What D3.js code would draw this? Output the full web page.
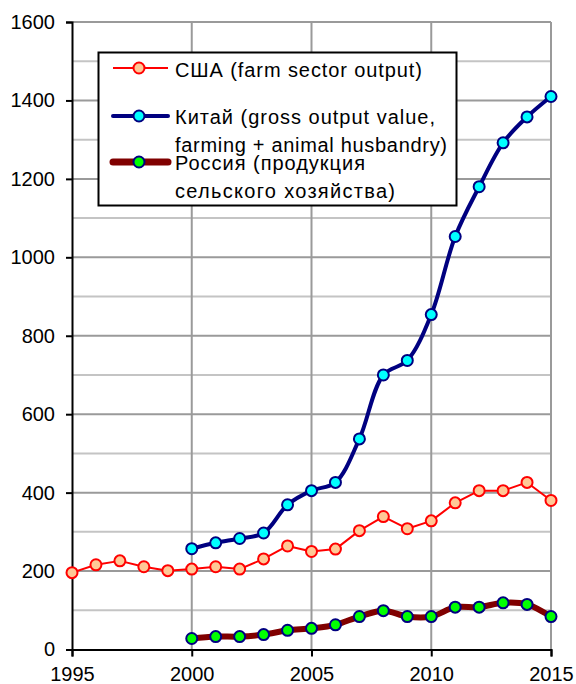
<!DOCTYPE html>
<html>
<head>
<meta charset="utf-8">
<script src="https://cdn.jsdelivr.net/npm/d3@7"></script>
<style>
  html, body { margin: 0; padding: 0; background: #fff; }
  svg { display: block; font-family: "Liberation Sans", Arial, sans-serif; }
</style>
</head>
<body>
<svg id="chart" width="576" height="684"></svg>
<script>
// Years of the observation period
const years = d3.range(1995, 2016);

// USA, farm sector output (1995–2015)
const usaValues = [196, 216, 226, 211, 201, 205, 211, 205, 231, 264, 250, 256,
                   303, 339, 308, 328, 374, 405, 405, 426, 380];

// China, gross output value (2000–2015)
const chinaYears = d3.range(2000, 2016);
const chinaValues = [257, 272, 283, 297, 369, 405, 426, 537, 700, 737, 854,
                     1053, 1180, 1292, 1358, 1410];

// Russia, agricultural production (2000–2015)
const russiaYears = d3.range(2000, 2016);
const russiaValues = [28, 33, 33, 38, 49, 54, 63, 84, 99, 84, 84, 108, 108,
                      119, 115, 84];

const yTicks = [0, 200, 400, 600, 800, 1000, 1200, 1400, 1600];
const yMinor = [100, 300, 500, 700, 900, 1100, 1300, 1500];
const xTicks = [1995, 2000, 2005, 2010, 2015];

const legendItems = [
  { lines: ["США (farm sector output)"], key: "usa" },
  { lines: ["Китай (gross output value,", "farming + animal husbandry)"], key: "china" },
  { lines: ["Россия (продукция", "сельского хозяйства)"], key: "russia" }
];

const styles = {
  usa:    { line: "#ff0000", width: 2, fill: "#ffc896", stroke: "#ff0000", legendWidth: 2 },
  china:  { line: "#000080", width: 4, fill: "#00ffff", stroke: "#000080", legendWidth: 4 },
  russia: { line: "#800000", width: 6, fill: "#00ff00", stroke: "#000080", legendWidth: 7 }
};

const svg = d3.select("#chart");
const plotLeft = 72, plotRight = 551, plotTop = 22, plotBottom = 649.5;

const x = d3.scaleLinear().domain([1995, 2015]).range([plotLeft, plotRight]);
const y = d3.scaleLinear().domain([0, 1600]).range([plotBottom, plotTop]);

// Gridlines
const grid = svg.append("g");
grid.selectAll("line.minor").data(yMinor).join("line").attr("class", "minor")
  .attr("x1", plotLeft).attr("x2", plotRight)
  .attr("y1", d => y(d)).attr("y2", d => y(d))
  .attr("stroke", "#c4c4c4").attr("stroke-width", 2);
grid.selectAll("line.major").data(yTicks.filter(d => d > 0)).join("line").attr("class", "major")
  .attr("x1", plotLeft).attr("x2", plotRight)
  .attr("y1", d => y(d)).attr("y2", d => y(d))
  .attr("stroke", "#9a9a9a").attr("stroke-width", 2);
grid.selectAll("line.vert").data(xTicks.filter(d => d > 1995)).join("line").attr("class", "vert")
  .attr("x1", d => x(d)).attr("x2", d => x(d))
  .attr("y1", plotTop).attr("y2", plotBottom)
  .attr("stroke", "#9a9a9a").attr("stroke-width", 2);

// Axes
const yAxis = d3.axisLeft(y).tickValues(yTicks).tickSize(6).tickPadding(11)
  .tickFormat(d3.format("d"));
const xAxis = d3.axisBottom(x).tickValues(xTicks).tickSize(7).tickPadding(10)
  .tickFormat(d3.format("d"));

const gy = svg.append("g").attr("transform", `translate(${plotLeft},0)`).call(yAxis);
const gx = svg.append("g").attr("transform", `translate(0,${plotBottom})`).call(xAxis);
[gy, gx].forEach(g => {
  g.select(".domain").attr("stroke", "#000").attr("stroke-width", 2);
  g.selectAll(".tick line").attr("stroke", "#000").attr("stroke-width", 2);
  g.selectAll(".tick text").attr("fill", "#000")
    .style("font-size", "20px").style("font-family", "Liberation Sans, Arial, sans-serif");
});
gx.selectAll(".tick text").attr("dy", "0.74em");

// Series
function drawSeries(xs, vs, key, curve) {
  const st = styles[key];
  const pts = xs.map((yr, i) => [yr, vs[i]]);
  const line = d3.line().x(d => x(d[0])).y(d => y(d[1])).curve(curve);
  const g = svg.append("g");
  g.append("path").datum(pts).attr("d", line)
    .attr("fill", "none").attr("stroke", st.line).attr("stroke-width", st.width)
    .attr("stroke-linejoin", "round");
  g.selectAll("circle").data(pts).join("circle")
    .attr("cx", d => x(d[0])).attr("cy", d => y(d[1])).attr("r", 5.5)
    .attr("fill", st.fill).attr("stroke", st.stroke).attr("stroke-width", 2);
}
drawSeries(years, usaValues, "usa", d3.curveLinear);
drawSeries(chinaYears, chinaValues, "china", d3.curveCatmullRom.alpha(0.5));
drawSeries(russiaYears, russiaValues, "russia", d3.curveCatmullRom.alpha(0.5));

// Legend
const lg = svg.append("g");
lg.append("rect").attr("x", 98.5).attr("y", 52.5).attr("width", 358).attr("height", 153)
  .attr("fill", "#fff").attr("stroke", "#000").attr("stroke-width", 2);

const symY = [68, 116, 162];
const textRows = [[77], [124, 152], [170, 198]];
const textWidths = [[247], [260, 272], [190, 220]];
legendItems.forEach((item, i) => {
  const st = styles[item.key];
  lg.append("line").attr("x1", 113).attr("x2", 168).attr("y1", symY[i]).attr("y2", symY[i])
    .attr("stroke", st.line).attr("stroke-width", st.legendWidth)
    .attr("stroke-linecap", item.key === "usa" ? "butt" : "round");
  lg.append("circle").attr("cx", 139).attr("cy", symY[i]).attr("r", 5.5)
    .attr("fill", st.fill).attr("stroke", st.stroke).attr("stroke-width", 2);
  item.lines.forEach((t, j) => {
    lg.append("text").attr("x", 175).attr("y", textRows[i][j])
      .attr("textLength", textWidths[i][j]).attr("lengthAdjust", "spacing")
      .style("font-size", "20px").attr("fill", "#000").text(t);
  });
});
</script>
</body>
</html>
